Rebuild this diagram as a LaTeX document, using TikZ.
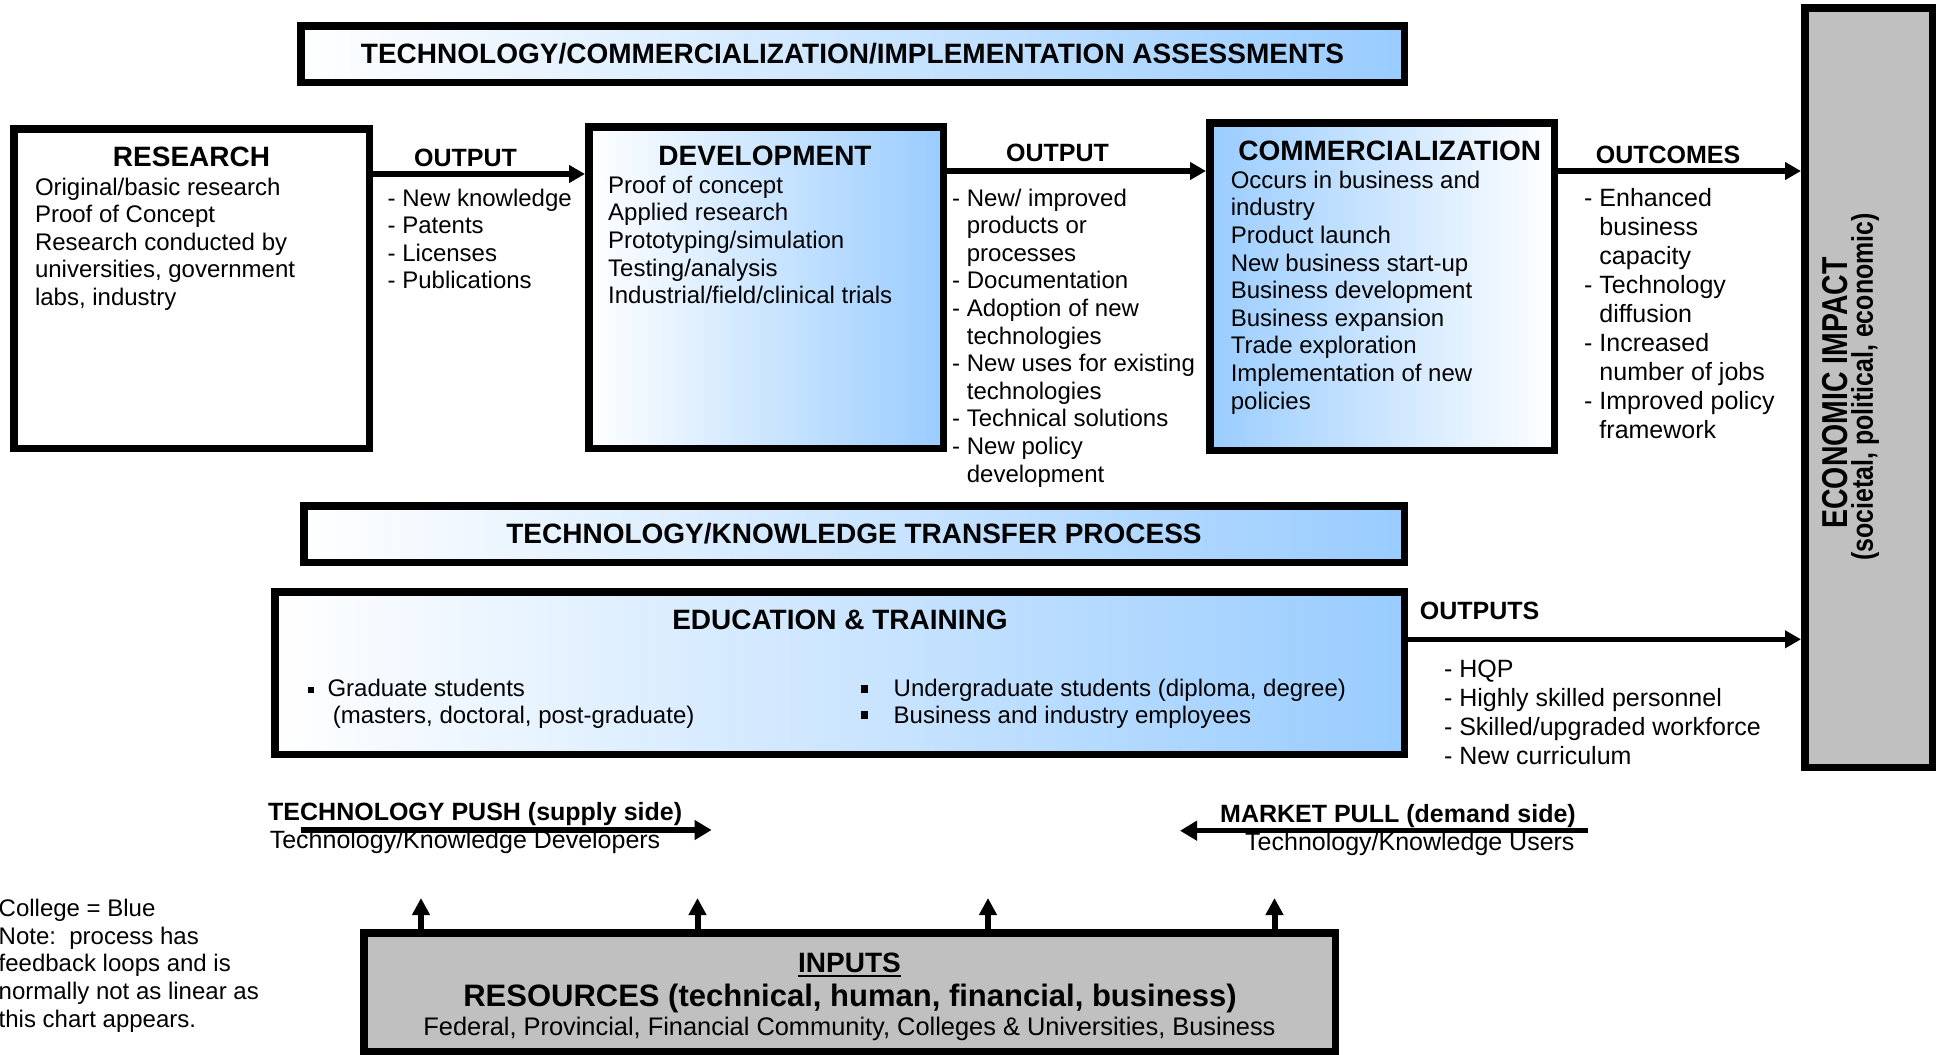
\documentclass[tikz,border=0pt]{standalone}
\usepackage{fontspec}
\setmainfont{Liberation Sans}
\usetikzlibrary{arrows.meta}
\definecolor{skyblue}{RGB}{153,204,255}
\definecolor{panelgray}{RGB}{192,192,192}
% one left-aligned block of lines, baseline at the first line
\newcommand\stack[1]{\begin{tabular}[t]{@{}l@{}}#1\end{tabular}}
% indent of a continued list item (width of "- ")
\newcommand\ind{\hphantom{-\ }}

\begin{document}
\begin{tikzpicture}[x=1pt,y=-1pt,
  box/.style={draw=black, line width=7.5pt, inner sep=0pt},
  blueR/.style={left color=white, right color=skyblue},
  blueL/.style={left color=skyblue, right color=white},
  hd/.style={font=\bfseries\fontsize{28}{32}\selectfont, anchor=base, inner sep=0pt},
  sub/.style={font=\bfseries\fontsize{25}{29}\selectfont, anchor=base west, inner sep=0pt},
  body/.style={font=\fontsize{24}{27.6}\selectfont, anchor=base west, inner sep=0pt},
  bodyL/.style={font=\fontsize{25}{29}\selectfont, anchor=base west, inner sep=0pt},
  flow/.style={line width=5.5pt, -{Triangle[length=16pt,width=17pt]}},
  feed/.style={line width=6pt, -{Triangle[length=17pt,width=17pt]}},
  drift/.style={line width=5.5pt, -{Triangle[length=17pt,width=19pt]}}]

\useasboundingbox (0,0) rectangle (1936,1055);

% ---------- boxes ----------
\node[box, blueR, minimum width=1103.5pt, minimum height=56.5pt] (assess) at (852.5,54) {};
\node[box, fill=white, minimum width=355.5pt, minimum height=319.5pt] (research) at (191.5,288.5) {};
\node[box, blueR, minimum width=354.5pt, minimum height=321.5pt] (develop) at (766,287.5) {};
\node[box, blueL, minimum width=344.5pt, minimum height=327.5pt] (commerce) at (1382,286.5) {};
\node[box, fill=panelgray, minimum width=127.5pt, minimum height=759.5pt] (impact) at (1868.5,387.5) {};
\node[box, blueR, minimum width=1100.5pt, minimum height=56.5pt] (transfer) at (854,534) {};
\node[box, blueR, minimum width=1129.5pt, minimum height=162.5pt] (edu) at (839.5,673) {};
\node[box, fill=panelgray, minimum width=971.5pt, minimum height=118.5pt] (inputs) at (849.5,992) {};

% ---------- connectors ----------
\coordinate (r1) at (0,174);
\coordinate (r2) at (0,171);
\coordinate (r3) at (0,639.3);
\draw[flow] (research.east |- r1) -- (develop.west |- r1);
\draw[flow] (develop.east |- r2) -- (commerce.west |- r2);
\draw[flow] (commerce.east |- r2) -- (impact.west |- r2);
\draw[flow] (edu.east |- r3) -- (impact.west |- r3);

\coordinate (u1) at (421,898);
\coordinate (u2) at (697.5,898);
\coordinate (u3) at (988,898);
\coordinate (u4) at (1274.5,898);
\foreach \u in {u1,u2,u3,u4}
  \draw[feed] (inputs.north -| \u) -- (\u);

\coordinate (pushTail) at (301,830);
\coordinate (pushTip) at (711.6,830);
\coordinate (pullTail) at (1588,830.7);
\coordinate (pullTip) at (1180,830.7);

% ---------- texts ----------
\node[hd] (assessT) at (852.5,63.3) {TECHNOLOGY/COMMERCIALIZATION/IMPLEMENTATION ASSESSMENTS};

\node[hd] (researchT) at (191.5,166.7) {RESEARCH};
\node[body] (researchB) at (34.8,195) {\stack{Original/basic research\\Proof of Concept\\Research conducted by\\universities, government\\labs, industry}};

\node[sub] (out1T) at (414,166.7) {OUTPUT};
\node[body] (out1B) at (387.5,206) {\stack{- New knowledge\\- Patents\\- Licenses\\- Publications}};

\node[hd] (developT) at (765,165) {DEVELOPMENT};
\node[body] (developB) at (608,193.3) {\stack{Proof of concept\\Applied research\\Prototyping/simulation\\Testing/analysis\\Industrial/field/clinical trials}};

\node[sub] (out2T) at (1006,161.7) {OUTPUT};
\node[body] (out2B) at (952,206) {\stack{- New/ improved\\\ind products or\\\ind processes\\- Documentation\\- Adoption of new\\\ind technologies\\- New uses for existing\\\ind technologies\\- Technical solutions\\- New policy\\\ind development}};

\node[hd] (commerceT) at (1389.7,160) {COMMERCIALIZATION};
\node[body] (commerceB) at (1230.6,188.3) {\stack{Occurs in business and\\industry\\Product launch\\New business start-up\\Business development\\Business expansion\\Trade exploration\\Implementation of new\\policies}};

\node[sub] (outcT) at (1595.6,163.3) {OUTCOMES};
\node[bodyL] (outcB) at (1584,206.7) {\stack{- Enhanced\\\ind business\\\ind capacity\\- Technology\\\ind diffusion\\- Increased\\\ind number of jobs\\- Improved policy\\\ind framework}};

\node[rotate=90, inner sep=0pt, font=\bfseries\fontsize{36}{40}\selectfont] (impactT) at (1835.5,393) {\scalebox{0.79}[1]{ECONOMIC IMPACT}};
\node[rotate=90, inner sep=0pt, font=\bfseries\fontsize{30}{34}\selectfont] (impactS) at (1865,387) {\scalebox{0.83}[1]{(societal, political, economic)}};

\node[hd] (transferT) at (854,543.3) {TECHNOLOGY/KNOWLEDGE TRANSFER PROCESS};

\node[hd] (eduT) at (840,629.3) {EDUCATION \& TRAINING};
\node[font=\fontsize{24}{26.6}\selectfont, anchor=base west, inner sep=0pt] (eduL) at (308,696.7)
  {\stack{\rule[4pt]{6pt}{6pt}\hspace{13.3pt}Graduate students\\\hspace{24.7pt}(masters, doctoral, post-graduate)}};
\node[font=\fontsize{24}{26.6}\selectfont, anchor=base west, inner sep=0pt] (eduR) at (860.6,696.7)
  {\stack{\rule[4pt]{7pt}{8pt}\hspace{25.9pt}Undergraduate students (diploma, degree)\\\rule[4pt]{7pt}{8pt}\hspace{25.9pt}Business and industry employees}};

\node[sub] (outsT) at (1419.7,619) {OUTPUTS};
\node[bodyL] (outsB) at (1443.8,677.7) {\stack{- HQP\\- Highly skilled personnel\\- Skilled/upgraded workforce\\- New curriculum}};

\node[sub] (pushT) at (268,820.7) {TECHNOLOGY PUSH (supply side)};
\node[bodyL] (pushB) at (269.6,848.3) {Technology/Knowledge Developers};
\node[sub] (pullT) at (1220,822.7) {MARKET PULL (demand side)};
\node[bodyL] (pullB) at (1245,850.7) {Technology/Knowledge Users};
\draw[drift] (pushTail) -- (pushTip);
\draw[drift] (pullTail) -- (pullTip);

\node[body] (note) at (-1.5,916.7) {\stack{College = Blue\\Note:\ \ process has\\feedback loops and is\\normally not as linear as\\this chart appears.}};

\node[hd] (inputsT) at (849.5,972.7) {INPUTS};
\draw[line width=2.4pt] ([yshift=-3.5pt]inputsT.base west) -- ([yshift=-3.5pt]inputsT.base east);
\node[font=\bfseries\fontsize{31}{34}\selectfont, anchor=base, inner sep=0pt] (resT) at (850,1006) {RESOURCES (technical, human, financial, business)};
\node[font=\fontsize{25.4}{28}\selectfont, anchor=base, inner sep=0pt] (resB) at (849.5,1035) {Federal, Provincial, Financial Community, Colleges \& Universities, Business};
\end{tikzpicture}
\end{document}
